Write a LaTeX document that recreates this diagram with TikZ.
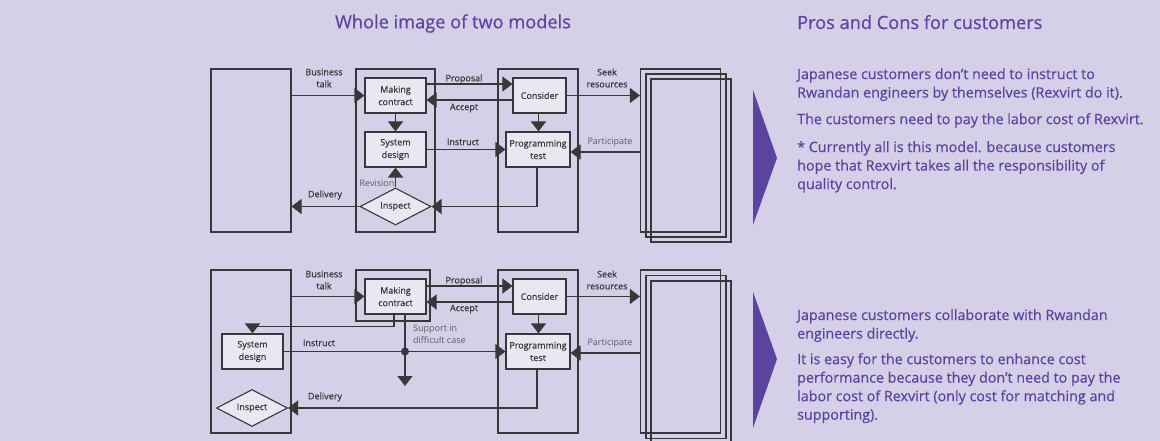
\documentclass[tikz,border=0pt]{standalone}
\usepackage{fontspec}
\setmainfont{Open Sans}
\newfontfamily\medfont{Open Sans}[FakeBold=0.5]
\usetikzlibrary{arrows.meta,shapes.geometric,positioning}
\definecolor{bgcol}{HTML}{D5CFE7}
\definecolor{boxcol}{HTML}{EAE7F3}
\definecolor{linecol}{HTML}{383838}
\definecolor{purp}{HTML}{5B44A0}
\definecolor{greytxt}{HTML}{5C5C66}

\begin{document}
\begin{tikzpicture}[x=1pt, y=-1pt,
	>={Triangle[length=10pt, width=15pt]},
	frame/.style={rectangle, draw=linecol, line width=1.1pt, inner sep=0pt},
	proc/.style={rectangle, draw=linecol, line width=1.1pt, fill=boxcol, inner sep=0pt, align=center, minimum height=35pt, font=\medfont\fontsize{9}{12.5}\selectfont, text=linecol},
	check/.style={diamond, aspect=2, draw=linecol, line width=1.1pt, fill=boxcol, inner sep=0pt, minimum width=71pt, minimum height=37pt, font=\medfont\fontsize{9}{12}\selectfont, text=linecol},
	flow/.style={->, draw=linecol, line width=1.1pt},
	tag/.style={inner sep=0pt, align=center, text=linecol, font=\medfont\fontsize{9}{12}\selectfont},
	faint/.style={tag, text=greytxt, font=\fontsize{9}{12}\selectfont},
	body/.style={anchor=north west, inner sep=0pt, align=left, text=purp, font=\medfont\fontsize{14.3}{18.5}\selectfont}]

	\fill[bgcol] (0, 0) rectangle (1160, 441);
	\useasboundingbox (0, 0) rectangle (1160, 441);

	\node[anchor=base, inner sep=0pt, text=purp, font=\medfont\fontsize{18.2}{20}\selectfont] (title-left) at (453, 28.3) {Whole image of two models};
	\node[anchor=base west, inner sep=0pt, text=purp, font=\medfont\fontsize{18.2}{20}\selectfont] (title-right) at (797, 29) {Pros and Cons for customers};

	% first model
	\node[frame, minimum width=80pt, minimum height=163pt] (client-1) at (251, 150.5) {};
	\node[frame, minimum width=79pt, minimum height=163pt] (rexvirt-1) at (395.5, 150.5) {};
	\node[frame, minimum width=80pt, minimum height=163pt] (partner-1) at (538, 150.5) {};
	\node[frame, minimum width=80pt, minimum height=163pt] (pool-1-c) at (691, 160.5) {};
	\node[frame, minimum width=80pt, minimum height=163pt] (pool-1-b) at (686, 155.5) {};
	\node[frame, minimum width=80pt, minimum height=163pt] (pool-1-a) at (680.5, 150.5) {};

	\node[proc, minimum width=61pt] (contract-1) at (395.5, 95.5) {Making\\contract};
	\node[proc, minimum width=61pt] (design-1) at (395.5, 149.5) {System\\design};
	\node[check] (inspect-1) at (395.5, 206.5) {Inspect};
	\node[proc, minimum width=53pt] (consider-1) at (539.5, 95.5) {Consider};
	\node[proc, minimum width=64pt] (test-1) at (538, 149.5) {Programming\\test};

	\draw[flow] (client-1.east |- contract-1.west) -- (contract-1.west);
	\draw[flow] ([yshift=11.5pt]contract-1.east) -- ([yshift=11.5pt]consider-1.west);
	\draw[flow] ([yshift=-4.5pt]consider-1.west) -- ([yshift=-4.5pt]contract-1.east);
	\draw[flow] (contract-1) -- (design-1);
	\draw[flow] (design-1) -- (test-1);
	\draw[flow] (consider-1.east) -- (pool-1-a.west |- consider-1.east);
	\draw[flow] ([yshift=-2.5pt]test-1.east -| pool-1-a.west) -- ([yshift=-2.5pt]test-1.east);
	\draw[flow] ([xshift=-1pt]consider-1.south) -- ([xshift=-1pt]consider-1.south |- test-1.north);
	\draw[flow] ([xshift=-1pt]test-1.south) |- (inspect-1.east);
	\draw[flow] (inspect-1.north) -- (design-1.south);
	\draw[flow] (inspect-1.west) -- (inspect-1.west -| client-1.east);

	\node[tag] at (324, 78) {Business\\talk};
	\node[tag] at (464, 79) {Proposal};
	\node[tag] at (464, 108) {Accept};
	\node[tag] at (463, 142) {Instruct};
	\node[tag] at (607, 78) {Seek\\resources};
	\node[faint] at (610, 142) {Participate};
	\node[faint] at (377, 183) {Revision};
	\node[tag] at (325, 195) {Delivery};

	\fill[purp] (753, 90) -- (777, 158) -- (753, 225) -- cycle;

	\node[body] (pros-1) at (797, 68) {Japanese customers don’t need to instruct to\\Rwandan engineers by themselves (Rexvirt do it).};
	\node[body] (cost-1) at (797, 113) {The customers need to pay the labor cost of Rexvirt.};
	\node[body] (note-1) at (797, 141) {* Currently all is this model. because customers\\hope that Rexvirt takes all the responsibility of\\quality control.};

	% second model
	\node[frame, minimum width=80pt, minimum height=163pt] (client-2) at (251, 351.5) {};
	\node[frame, minimum width=74pt, minimum height=51pt] (rexvirt-2) at (393, 295.5) {};
	\node[frame, minimum width=80pt, minimum height=163pt] (partner-2) at (538, 351.5) {};
	\node[frame, minimum width=80pt, minimum height=163pt] (pool-2-c) at (691, 362.5) {};
	\node[frame, minimum width=80pt, minimum height=163pt] (pool-2-b) at (686, 357) {};
	\node[frame, minimum width=80pt, minimum height=163pt] (pool-2-a) at (680.5, 351.5) {};

	\node[proc, minimum width=61pt] (contract-2) at (395.5, 296.5) {Making\\contract};
	\node[proc, minimum width=61pt] (design-2) at (252.5, 351.5) {System\\design};
	\node[check] (inspect-2) at (252, 408) {Inspect};
	\node[proc, minimum width=53pt] (consider-2) at (539.5, 296.5) {Consider};
	\node[proc, minimum width=64pt] (test-2) at (538, 351.5) {Programming\\test};
	\node[circle, fill=linecol, inner sep=0pt, minimum size=8pt] (hub) at (405, 351.5) {};
	\coordinate (support-end) at (405, 386);

	\draw[flow] (client-2.east |- contract-2.west) -- (contract-2.west);
	\draw[flow] ([yshift=10.5pt]contract-2.east) -- ([yshift=10.5pt]consider-2.west);
	\draw[flow] ([yshift=-5.5pt]consider-2.west) -- ([yshift=-5.5pt]contract-2.east);
	\draw[flow] ([xshift=-1.5pt]contract-2.south) -- ++(0, 12) -| (design-2.north);
	\draw[flow] (contract-2.south -| hub) -- (support-end);
	\draw[flow] (design-2) -- (test-2);
	\draw[flow] (consider-2.east) -- (pool-2-a.west |- consider-2.east);
	\draw[flow] ([yshift=-1.5pt]test-2.east -| pool-2-a.west) -- ([yshift=-1.5pt]test-2.east);
	\draw[flow] ([xshift=-1pt]consider-2.south) -- ([xshift=-1pt]consider-2.south |- test-2.north);
	\draw[flow] ([xshift=-1pt]test-2.south) |- (inspect-2.east);

	\node[tag] at (324, 280) {Business\\talk};
	\node[tag] at (464, 281) {Proposal};
	\node[tag] at (464, 309) {Accept};
	\node[tag] at (319, 343) {Instruct};
	\node[faint, anchor=west, align=left] at (413, 334.5) {Support in\\difficult case};
	\node[tag] at (607, 280) {Seek\\resources};
	\node[faint] at (610, 343) {Participate};
	\node[tag] at (325, 397) {Delivery};

	\fill[purp] (753, 292) -- (777, 359) -- (753, 428) -- cycle;

	\node[body] (pros-2) at (797, 309) {Japanese customers collaborate with Rwandan\\engineers directly.};
	\node[body] (cost-2) at (797, 353) {It is easy for the customers to enhance cost\\performance because they don’t need to pay the\\labor cost of Rexvirt (only cost for matching and\\supporting).};
\end{tikzpicture}
\end{document}
